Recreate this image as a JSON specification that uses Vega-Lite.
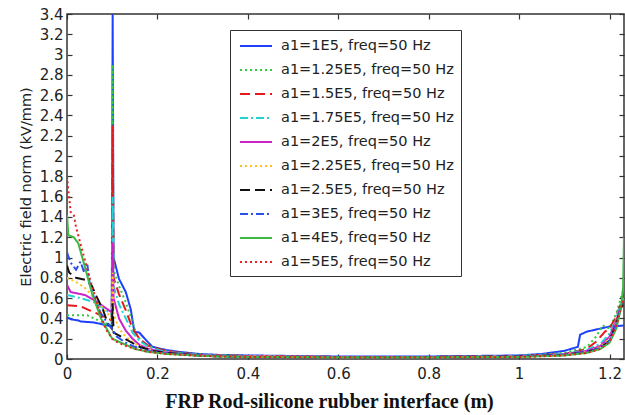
{
 "$schema": "https://vega.github.io/schema/vega-lite/v6.json",
 "width": 557, "height": 345,
 "autosize": {"type": "none"},
 "padding": {"left": 67, "top": 14, "right": 1, "bottom": 56},
 "background": "white",
 "config": {"view": {"stroke": "#333", "strokeWidth": 1.5}, "font": "DejaVu Sans"},
 "data": {"values": [
  {"s":"1E5","x":0,"y":0.41},{"s":"1E5","x":0.01,"y":0.39},{"s":"1E5","x":0.025,"y":0.38},{"s":"1E5","x":0.03,"y":0.37},{"s":"1E5","x":0.06,"y":0.36},{"s":"1E5","x":0.08,"y":0.34},{"s":"1E5","x":0.099,"y":0.32},{"s":"1E5","x":0.101,"y":3.4},{"s":"1E5","x":0.103,"y":1.0},{"s":"1E5","x":0.115,"y":0.79},{"s":"1E5","x":0.13,"y":0.66},{"s":"1E5","x":0.141,"y":0.49},{"s":"1E5","x":0.149,"y":0.27},{"s":"1E5","x":0.16,"y":0.26},{"s":"1E5","x":0.174,"y":0.19},{"s":"1E5","x":0.189,"y":0.12},{"s":"1E5","x":0.218,"y":0.09},{"s":"1E5","x":0.248,"y":0.07},{"s":"1E5","x":0.292,"y":0.05},{"s":"1E5","x":0.336,"y":0.04},{"s":"1E5","x":0.4,"y":0.035},{"s":"1E5","x":0.5,"y":0.03},{"s":"1E5","x":0.6,"y":0.025},{"s":"1E5","x":0.8,"y":0.025},{"s":"1E5","x":0.9,"y":0.03},{"s":"1E5","x":1.0,"y":0.035},{"s":"1E5","x":1.05,"y":0.05},{"s":"1E5","x":1.1,"y":0.08},{"s":"1E5","x":1.13,"y":0.12},{"s":"1E5","x":1.135,"y":0.24},{"s":"1E5","x":1.15,"y":0.27},{"s":"1E5","x":1.17,"y":0.29},{"s":"1E5","x":1.2,"y":0.32},{"s":"1E5","x":1.232,"y":0.33},

  {"s":"1.25E5","x":0,"y":0.43},{"s":"1.25E5","x":0.045,"y":0.43},{"s":"1.25E5","x":0.06,"y":0.4},{"s":"1.25E5","x":0.08,"y":0.36},{"s":"1.25E5","x":0.099,"y":0.33},{"s":"1.25E5","x":0.101,"y":2.9},{"s":"1.25E5","x":0.103,"y":0.88},{"s":"1.25E5","x":0.115,"y":0.72},{"s":"1.25E5","x":0.13,"y":0.56},{"s":"1.25E5","x":0.145,"y":0.36},{"s":"1.25E5","x":0.155,"y":0.23},{"s":"1.25E5","x":0.17,"y":0.16},{"s":"1.25E5","x":0.19,"y":0.11},{"s":"1.25E5","x":0.22,"y":0.08},{"s":"1.25E5","x":0.25,"y":0.06},{"s":"1.25E5","x":0.3,"y":0.045},{"s":"1.25E5","x":0.4,"y":0.03},{"s":"1.25E5","x":0.6,"y":0.02},{"s":"1.25E5","x":0.8,"y":0.02},{"s":"1.25E5","x":1.0,"y":0.03},{"s":"1.25E5","x":1.1,"y":0.06},{"s":"1.25E5","x":1.15,"y":0.12},{"s":"1.25E5","x":1.17,"y":0.22},{"s":"1.25E5","x":1.185,"y":0.33},{"s":"1.25E5","x":1.2,"y":0.3},{"s":"1.25E5","x":1.215,"y":0.45},{"s":"1.25E5","x":1.225,"y":0.6},{"s":"1.25E5","x":1.232,"y":0.7},

  {"s":"1.5E5","x":0,"y":0.53},{"s":"1.5E5","x":0.03,"y":0.52},{"s":"1.5E5","x":0.05,"y":0.48},{"s":"1.5E5","x":0.08,"y":0.42},{"s":"1.5E5","x":0.099,"y":0.38},{"s":"1.5E5","x":0.101,"y":2.3},{"s":"1.5E5","x":0.103,"y":0.8},{"s":"1.5E5","x":0.115,"y":0.64},{"s":"1.5E5","x":0.13,"y":0.48},{"s":"1.5E5","x":0.145,"y":0.3},{"s":"1.5E5","x":0.16,"y":0.2},{"s":"1.5E5","x":0.18,"y":0.13},{"s":"1.5E5","x":0.21,"y":0.09},{"s":"1.5E5","x":0.25,"y":0.06},{"s":"1.5E5","x":0.3,"y":0.04},{"s":"1.5E5","x":0.4,"y":0.03},{"s":"1.5E5","x":0.6,"y":0.02},{"s":"1.5E5","x":0.8,"y":0.02},{"s":"1.5E5","x":1.0,"y":0.03},{"s":"1.5E5","x":1.1,"y":0.05},{"s":"1.5E5","x":1.15,"y":0.1},{"s":"1.5E5","x":1.17,"y":0.17},{"s":"1.5E5","x":1.19,"y":0.27},{"s":"1.5E5","x":1.2,"y":0.3},{"s":"1.5E5","x":1.215,"y":0.42},{"s":"1.5E5","x":1.225,"y":0.55},{"s":"1.5E5","x":1.232,"y":0.65},

  {"s":"1.75E5","x":0,"y":0.63},{"s":"1.75E5","x":0.03,"y":0.6},{"s":"1.75E5","x":0.06,"y":0.56},{"s":"1.75E5","x":0.08,"y":0.5},{"s":"1.75E5","x":0.099,"y":0.44},{"s":"1.75E5","x":0.101,"y":1.6},{"s":"1.75E5","x":0.103,"y":0.72},{"s":"1.75E5","x":0.115,"y":0.54},{"s":"1.75E5","x":0.13,"y":0.4},{"s":"1.75E5","x":0.145,"y":0.26},{"s":"1.75E5","x":0.16,"y":0.18},{"s":"1.75E5","x":0.18,"y":0.12},{"s":"1.75E5","x":0.21,"y":0.08},{"s":"1.75E5","x":0.25,"y":0.055},{"s":"1.75E5","x":0.3,"y":0.04},{"s":"1.75E5","x":0.4,"y":0.025},{"s":"1.75E5","x":0.6,"y":0.02},{"s":"1.75E5","x":0.8,"y":0.02},{"s":"1.75E5","x":1.0,"y":0.03},{"s":"1.75E5","x":1.1,"y":0.05},{"s":"1.75E5","x":1.15,"y":0.09},{"s":"1.75E5","x":1.18,"y":0.15},{"s":"1.75E5","x":1.2,"y":0.25},{"s":"1.75E5","x":1.215,"y":0.4},{"s":"1.75E5","x":1.225,"y":0.55},{"s":"1.75E5","x":1.232,"y":0.6},

  {"s":"2E5","x":0,"y":0.73},{"s":"2E5","x":0.008,"y":0.66},{"s":"2E5","x":0.04,"y":0.63},{"s":"2E5","x":0.06,"y":0.58},{"s":"2E5","x":0.08,"y":0.52},{"s":"2E5","x":0.099,"y":0.46},{"s":"2E5","x":0.101,"y":1.15},{"s":"2E5","x":0.103,"y":0.6},{"s":"2E5","x":0.115,"y":0.4},{"s":"2E5","x":0.13,"y":0.28},{"s":"2E5","x":0.145,"y":0.2},{"s":"2E5","x":0.16,"y":0.14},{"s":"2E5","x":0.18,"y":0.1},{"s":"2E5","x":0.21,"y":0.07},{"s":"2E5","x":0.25,"y":0.05},{"s":"2E5","x":0.3,"y":0.035},{"s":"2E5","x":0.4,"y":0.025},{"s":"2E5","x":0.6,"y":0.02},{"s":"2E5","x":0.8,"y":0.02},{"s":"2E5","x":1.0,"y":0.025},{"s":"2E5","x":1.1,"y":0.045},{"s":"2E5","x":1.15,"y":0.08},{"s":"2E5","x":1.18,"y":0.13},{"s":"2E5","x":1.2,"y":0.22},{"s":"2E5","x":1.215,"y":0.38},{"s":"2E5","x":1.225,"y":0.52},{"s":"2E5","x":1.232,"y":0.58},

  {"s":"2.25E5","x":0,"y":0.8},{"s":"2.25E5","x":0.02,"y":0.76},{"s":"2.25E5","x":0.04,"y":0.7},{"s":"2.25E5","x":0.06,"y":0.6},{"s":"2.25E5","x":0.08,"y":0.5},{"s":"2.25E5","x":0.095,"y":0.42},{"s":"2.25E5","x":0.099,"y":0.38},{"s":"2.25E5","x":0.101,"y":0.85},{"s":"2.25E5","x":0.103,"y":0.45},{"s":"2.25E5","x":0.115,"y":0.3},{"s":"2.25E5","x":0.13,"y":0.22},{"s":"2.25E5","x":0.15,"y":0.15},{"s":"2.25E5","x":0.17,"y":0.11},{"s":"2.25E5","x":0.2,"y":0.07},{"s":"2.25E5","x":0.25,"y":0.045},{"s":"2.25E5","x":0.3,"y":0.03},{"s":"2.25E5","x":0.4,"y":0.025},{"s":"2.25E5","x":0.6,"y":0.02},{"s":"2.25E5","x":0.8,"y":0.02},{"s":"2.25E5","x":1.0,"y":0.025},{"s":"2.25E5","x":1.1,"y":0.04},{"s":"2.25E5","x":1.15,"y":0.07},{"s":"2.25E5","x":1.18,"y":0.12},{"s":"2.25E5","x":1.2,"y":0.2},{"s":"2.25E5","x":1.215,"y":0.36},{"s":"2.25E5","x":1.225,"y":0.5},{"s":"2.25E5","x":1.232,"y":0.56},

  {"s":"2.5E5","x":0,"y":0.92},{"s":"2.5E5","x":0.005,"y":0.85},{"s":"2.5E5","x":0.02,"y":0.8},{"s":"2.5E5","x":0.04,"y":0.78},{"s":"2.5E5","x":0.055,"y":0.72},{"s":"2.5E5","x":0.065,"y":0.62},{"s":"2.5E5","x":0.08,"y":0.48},{"s":"2.5E5","x":0.09,"y":0.35},{"s":"2.5E5","x":0.099,"y":0.3},{"s":"2.5E5","x":0.101,"y":0.55},{"s":"2.5E5","x":0.103,"y":0.26},{"s":"2.5E5","x":0.12,"y":0.22},{"s":"2.5E5","x":0.14,"y":0.17},{"s":"2.5E5","x":0.16,"y":0.12},{"s":"2.5E5","x":0.19,"y":0.08},{"s":"2.5E5","x":0.22,"y":0.06},{"s":"2.5E5","x":0.3,"y":0.03},{"s":"2.5E5","x":0.4,"y":0.02},{"s":"2.5E5","x":0.6,"y":0.02},{"s":"2.5E5","x":0.8,"y":0.02},{"s":"2.5E5","x":1.0,"y":0.025},{"s":"2.5E5","x":1.1,"y":0.04},{"s":"2.5E5","x":1.15,"y":0.07},{"s":"2.5E5","x":1.18,"y":0.11},{"s":"2.5E5","x":1.2,"y":0.18},{"s":"2.5E5","x":1.215,"y":0.35},{"s":"2.5E5","x":1.225,"y":0.5},{"s":"2.5E5","x":1.232,"y":0.55},

  {"s":"3E5","x":0,"y":1.05},{"s":"3E5","x":0.008,"y":0.95},{"s":"3E5","x":0.02,"y":0.88},{"s":"3E5","x":0.03,"y":0.96},{"s":"3E5","x":0.038,"y":0.85},{"s":"3E5","x":0.045,"y":0.93},{"s":"3E5","x":0.05,"y":0.75},{"s":"3E5","x":0.06,"y":0.6},{"s":"3E5","x":0.075,"y":0.45},{"s":"3E5","x":0.09,"y":0.35},{"s":"3E5","x":0.1,"y":0.3},{"s":"3E5","x":0.11,"y":0.22},{"s":"3E5","x":0.13,"y":0.16},{"s":"3E5","x":0.15,"y":0.12},{"s":"3E5","x":0.18,"y":0.08},{"s":"3E5","x":0.22,"y":0.055},{"s":"3E5","x":0.3,"y":0.03},{"s":"3E5","x":0.4,"y":0.02},{"s":"3E5","x":0.6,"y":0.02},{"s":"3E5","x":0.8,"y":0.02},{"s":"3E5","x":1.0,"y":0.025},{"s":"3E5","x":1.1,"y":0.04},{"s":"3E5","x":1.15,"y":0.07},{"s":"3E5","x":1.18,"y":0.11},{"s":"3E5","x":1.2,"y":0.18},{"s":"3E5","x":1.215,"y":0.34},{"s":"3E5","x":1.225,"y":0.5},{"s":"3E5","x":1.232,"y":0.55},

  {"s":"4E5","x":0,"y":1.42},{"s":"4E5","x":0.003,"y":1.22},{"s":"4E5","x":0.015,"y":1.2},{"s":"4E5","x":0.025,"y":1.14},{"s":"4E5","x":0.04,"y":0.9},{"s":"4E5","x":0.055,"y":0.65},{"s":"4E5","x":0.075,"y":0.4},{"s":"4E5","x":0.095,"y":0.24},{"s":"4E5","x":0.1,"y":0.2},{"s":"4E5","x":0.11,"y":0.18},{"s":"4E5","x":0.125,"y":0.15},{"s":"4E5","x":0.15,"y":0.1},{"s":"4E5","x":0.18,"y":0.07},{"s":"4E5","x":0.22,"y":0.05},{"s":"4E5","x":0.3,"y":0.03},{"s":"4E5","x":0.4,"y":0.02},{"s":"4E5","x":0.6,"y":0.018},{"s":"4E5","x":0.8,"y":0.018},{"s":"4E5","x":1.0,"y":0.02},{"s":"4E5","x":1.1,"y":0.035},{"s":"4E5","x":1.15,"y":0.06},{"s":"4E5","x":1.18,"y":0.1},{"s":"4E5","x":1.2,"y":0.16},{"s":"4E5","x":1.215,"y":0.3},{"s":"4E5","x":1.225,"y":0.5},{"s":"4E5","x":1.23,"y":0.7},{"s":"4E5","x":1.232,"y":1.2},

  {"s":"5E5","x":0,"y":1.8},{"s":"5E5","x":0.008,"y":1.45},{"s":"5E5","x":0.015,"y":1.42},{"s":"5E5","x":0.02,"y":1.3},{"s":"5E5","x":0.035,"y":1.05},{"s":"5E5","x":0.05,"y":0.8},{"s":"5E5","x":0.07,"y":0.5},{"s":"5E5","x":0.085,"y":0.3},{"s":"5E5","x":0.1,"y":0.2},{"s":"5E5","x":0.11,"y":0.17},{"s":"5E5","x":0.13,"y":0.13},{"s":"5E5","x":0.15,"y":0.1},{"s":"5E5","x":0.18,"y":0.07},{"s":"5E5","x":0.22,"y":0.05},{"s":"5E5","x":0.3,"y":0.03},{"s":"5E5","x":0.4,"y":0.02},{"s":"5E5","x":0.6,"y":0.018},{"s":"5E5","x":0.8,"y":0.018},{"s":"5E5","x":1.0,"y":0.02},{"s":"5E5","x":1.1,"y":0.035},{"s":"5E5","x":1.15,"y":0.06},{"s":"5E5","x":1.18,"y":0.1},{"s":"5E5","x":1.2,"y":0.17},{"s":"5E5","x":1.215,"y":0.32},{"s":"5E5","x":1.225,"y":0.5},{"s":"5E5","x":1.232,"y":0.62}
 ]},
 "layer": [
  {
   "mark": {"type": "line", "strokeWidth": 2, "clip": true},
   "encoding": {
    "x": {"field": "x", "type": "quantitative",
     "scale": {"domain": [0, 1.232], "nice": false, "zero": false},
     "axis": {"orient": "bottom", "values": [0, 0.2, 0.4, 0.6, 0.8, 1, 1.2], "format": "~g", "grid": false, "domain": false,
      "tickSize": -5, "tickColor": "#333", "tickWidth": 1.2, "labelFlush": false, "labelFontSize": 15, "labelColor": "#222", "labelPadding": 12,
      "title": "FRP Rod-silicone rubber interface (m)", "titleFont": "Liberation Serif", "titleFontWeight": "bold", "titleFontSize": 20, "titleColor": "#111",
      "titleX": 262, "titleY": 48, "titleBaseline": "alphabetic", "titleAlign": "center"}},
    "y": {"field": "y", "type": "quantitative",
     "scale": {"domain": [0, 3.4], "nice": false},
     "axis": {"orient": "left", "values": [0,0.2,0.4,0.6,0.8,1,1.2,1.4,1.6,1.8,2,2.2,2.4,2.6,2.8,3,3.2,3.4], "format": "~g", "grid": false, "domain": false,
      "tickSize": -5, "tickColor": "#333", "tickWidth": 1.2, "labelFlush": false, "labelFontSize": 15, "labelColor": "#222", "labelPadding": 9,
      "title": "Electric field norm (kV/mm)", "titleFontSize": 14.5, "titleFontWeight": "normal", "titleColor": "#222", "titlePadding": 6}},
    "color": {"field": "s", "type": "nominal",
     "scale": {"domain": ["1E5","1.25E5","1.5E5","1.75E5","2E5","2.25E5","2.5E5","3E5","4E5","5E5"],
      "range": ["#1f3fff","#2ecc40","#e3191c","#22d3d3","#cc22cc","#ffc020","#111111","#2850f0","#3cb944","#e82020"]},
     "legend": {"orient": "none", "legendX": 163, "legendY": 16, "title": null, "symbolType": "M-2,0L2,0", "symbolSize": 256, "symbolStrokeWidth": 2,
      "symbolOffset": 10, "symbolFillColor": "transparent",
      "labelFontSize": 14.5, "labelColor": "#222", "labelOffset": 16, "labelLimit": 300, "rowPadding": 8,
      "strokeColor": "#333", "fillColor": "white", "padding": 7,
      "labelExpr": "'a1=' + datum.label + ', freq=50 Hz'"}},
    "strokeDash": {"field": "s", "type": "nominal",
     "scale": {"domain": ["1E5","1.25E5","1.5E5","1.75E5","2E5","2.25E5","2.5E5","3E5","4E5","5E5"],
      "range": [[1,0],[2,3],[10,5],[8,3,2,3],[1,0],[2,3],[10,5],[8,3,2,3],[1,0],[2,3]]}}
   }
  },
  {
   "mark": {"type": "line", "opacity": 0},
   "encoding": {
    "x": {"field": "x", "type": "quantitative", "axis": {"orient": "top", "values": [0, 0.2, 0.4, 0.6, 0.8, 1, 1.2], "labels": false, "title": null, "grid": false, "domain": false, "tickSize": -5, "tickColor": "#333", "tickWidth": 1.2}},
    "y": {"field": "y", "type": "quantitative", "axis": {"orient": "right", "values": [0,0.2,0.4,0.6,0.8,1,1.2,1.4,1.6,1.8,2,2.2,2.4,2.6,2.8,3,3.2,3.4], "labels": false, "title": null, "grid": false, "domain": false, "tickSize": -5, "tickColor": "#333", "tickWidth": 1.2}}
   }
  }
 ],
 "resolve": {"axis": {"x": "independent", "y": "independent"}}
}
